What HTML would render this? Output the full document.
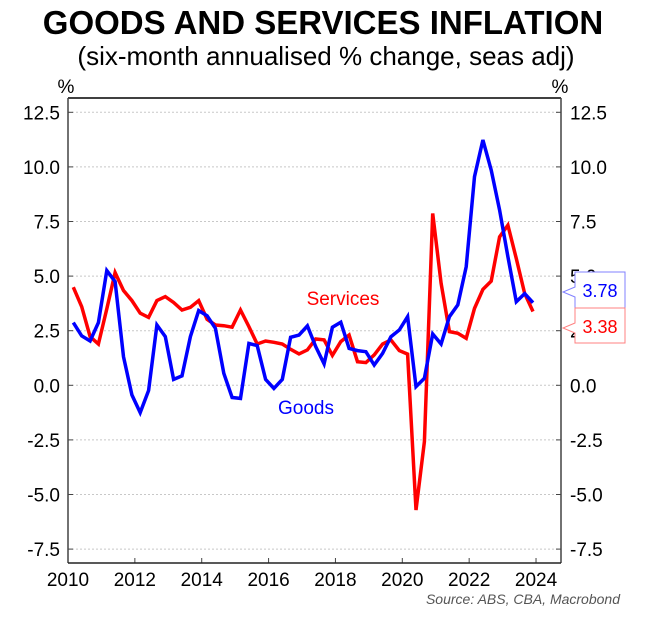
<!DOCTYPE html>
<html><head><meta charset="utf-8"><style>
body{margin:0;background:#fff;}
svg text{font-family:"Liberation Sans",sans-serif;}
</style></head><body>
<svg width="649" height="626" viewBox="0 0 649 626" xmlns="http://www.w3.org/2000/svg">
<text x="323" y="34" text-anchor="middle" font-size="33" font-weight="bold">GOODS AND SERVICES INFLATION</text>
<text x="326" y="65" text-anchor="middle" font-size="26">(six-month annualised % change, seas adj)</text>
<text x="66" y="93" text-anchor="middle" font-size="19">%</text>
<text x="560" y="93" text-anchor="middle" font-size="19">%</text>
<g id="grid"></g>
<g id="axes"></g>
<g id="series"></g>
<text x="343" y="305" text-anchor="middle" font-size="19" fill="#ff0000">Services</text>
<text x="306" y="414" text-anchor="middle" font-size="19" fill="#0000ff">Goods</text>
<g>
<path d="M575,272 H625 V308 H575 V297 L563,292 L575,287 Z" fill="#fff" stroke="#8080ff" stroke-width="1"/>
<text x="600" y="297" text-anchor="middle" font-size="18" fill="#0000ff">3.78</text>
</g>
<g>
<path d="M575,308 H625 V343 H575 V333 L563,328 L575,323 Z" fill="#fff" stroke="#ff8080" stroke-width="1"/>
<text x="600" y="333" text-anchor="middle" font-size="18" fill="#ff0000">3.38</text>
</g>
<text x="620" y="604" text-anchor="end" font-size="14" font-style="italic" fill="#555">Source: ABS, CBA, Macrobond</text>
</svg>
<script>
const startYear = 2010.16;
const goods = [2.87,2.26,2.03,2.87,5.25,4.75,1.31,-0.44,-1.25,-0.24,2.76,2.23,0.27,0.43,2.23,3.42,3.18,2.61,0.55,-0.56,-0.6,1.92,1.82,0.27,-0.14,0.27,2.2,2.3,2.72,1.77,0.98,2.66,2.89,1.69,1.59,1.54,0.93,1.46,2.22,2.53,3.14,-0.06,0.32,2.35,1.89,3.14,3.68,5.43,9.55,11.23,9.86,8.02,5.89,3.83,4.2,3.78];
const services = [4.49,3.6,2.23,1.89,3.5,5.16,4.34,3.88,3.3,3.11,3.88,4.06,3.79,3.45,3.57,3.88,3.02,2.76,2.73,2.66,3.45,2.69,1.89,2.03,1.97,1.89,1.65,1.44,1.62,2.12,2.08,1.37,2.0,2.3,1.08,1.04,1.39,1.89,2.08,1.59,1.43,-5.71,-2.58,7.87,4.67,2.46,2.38,2.15,3.52,4.39,4.77,6.8,7.33,5.8,4.2,3.38];
const yTicks = [12.5,10,7.5,5,2.5,0,-2.5,-5,-7.5];
const yTickLabels = ["12.5","10.0","7.5","5.0","2.5","0.0","-2.5","-5.0","-7.5"];
const xTicks = [2010,2012,2014,2016,2018,2020,2022,2024];

const NS="http://www.w3.org/2000/svg";
const L=68,R=561,T=98,B=563;
const xs=y=>68+(y-2010)*33.43;
const ys=v=>385.3-v*21.84;
function mk(tag,attrs,parent){const e=document.createElementNS(NS,tag);for(const k in attrs)e.setAttribute(k,attrs[k]);parent.appendChild(e);return e;}
const grid=document.getElementById('grid'),axes=document.getElementById('axes'),ser=document.getElementById('series');
yTicks.forEach((v,i)=>{
  const g=mk('line',{x1:L,x2:R,y1:ys(v),y2:ys(v),stroke:'#c8c8c8','stroke-dasharray':'2,2','stroke-width':1},grid);
  
  
  mk('line',{x1:L,x2:L+5,y1:ys(v),y2:ys(v),stroke:'#444'},axes);
  mk('line',{x1:R-5,x2:R,y1:ys(v),y2:ys(v),stroke:'#444'},axes);
  const t1=mk('text',{x:60,y:ys(v)+7,'text-anchor':'end','font-size':19},axes);t1.textContent=yTickLabels[i];
  
  
  const t2=mk('text',{x:570,y:ys(v)+7,'text-anchor':'start','font-size':19},axes);t2.textContent=yTickLabels[i];
  
  
});
xTicks.forEach(y=>{
  mk('line',{x1:xs(y),x2:xs(y),y1:B,y2:B-5,stroke:'#444'},axes);
  const t=mk('text',{x:xs(y),y:B+23,'text-anchor':'middle','font-size':19},axes);t.textContent=y;
  
  
});
mk('line',{x1:L,x2:R,y1:T,y2:T,stroke:'#000','stroke-width':1.5},axes);
mk('line',{x1:L,x2:L,y1:T,y2:B,stroke:'#444','stroke-width':1.5},axes);
mk('line',{x1:R,x2:R,y1:T,y2:B,stroke:'#444','stroke-width':1.5},axes);
mk('line',{x1:L,x2:R,y1:B,y2:B,stroke:'#222','stroke-width':1.5},axes);
function line(data,color,name){
  const d=data.map((v,i)=>(i?'L':'M')+xs(startYear+i*0.25).toFixed(1)+','+ys(v).toFixed(1)).join(' ');
  const p=mk('path',{d:d,fill:'none',stroke:color,'stroke-width':3.5,'stroke-linejoin':'miter'},ser);
  
  
}
line(services,'#ff0000','services-line');
line(goods,'#0000ff','goods-line');
</script>
</body></html>
